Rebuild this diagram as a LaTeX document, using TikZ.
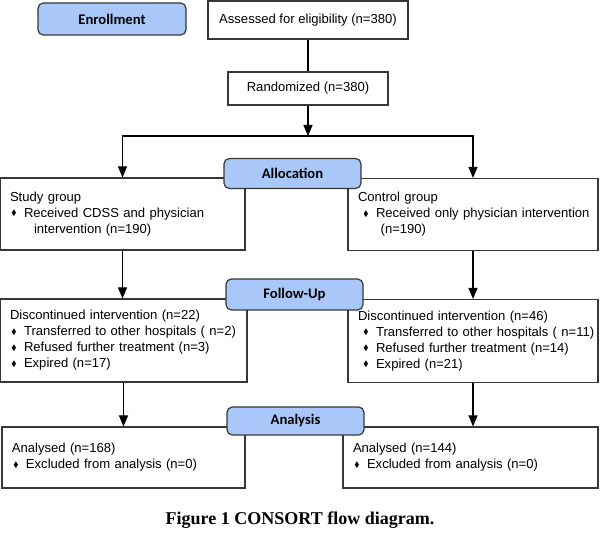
\documentclass[tikz,border=0pt]{standalone}
\usepackage{amsmath, amssymb}
\usepackage{fontspec}
\setmainfont{Liberation Sans}
\newfontfamily\hdrfont{Carlito}
\newfontfamily\capfont{Liberation Serif}
\usepackage{tikz}
\usetikzlibrary{arrows}
\definecolor{hdrblue}{RGB}{169,199,248}
\definecolor{boxline}{RGB}{55,55,55}
\tikzstyle{stage}=[draw=boxline, fill=hdrblue, rounded corners=4pt, line width=0.9pt, minimum width=102.75pt, minimum height=22.5pt, inner sep=0pt, font=\hdrfont\bfseries\fontsize{11}{13}\selectfont]
\tikzstyle{onebox}=[draw=boxline, fill=white, line width=0.9pt, inner sep=0pt, font=\fontsize{9.8}{12}\selectfont]
\tikzstyle{grpbox}=[onebox, align=left, inner xsep=7.5pt, inner ysep=3pt]
\tikzstyle{link}=[line width=0.9pt, black]
\tikzstyle{flow}=[link, -triangle 45]
\newcommand{\dmd}{\makebox[10.5pt][l]{\hspace{1pt}\raisebox{.25ex}{\scalebox{.6}{$\blacklozenge$}}}}

\begin{document}
\begin{tikzpicture}[x=0.75pt, y=-0.75pt]
	\useasboundingbox (0,0) rectangle (600,534);
	\node[onebox, minimum width=150pt, minimum height=28.5pt] (assess) at (308,20) {Assessed for eligibility (n=380)};
	\node[onebox, minimum width=120pt, minimum height=24.75pt] (rand) at (308,88.5) {Randomized (n=380)};
	\coordinate (split) at (308,136);
	\node[grpbox, text width=168.75pt, minimum height=54pt] (study) at (122.5,214) {Study group\\
		\dmd\mbox{Received CDSS and physician}\\
		\hspace*{18pt}intervention (n=190)};
	\node[grpbox, text width=172.5pt, minimum height=54pt] (control) at (473,214.5) {Control group\\
		\hspace*{3pt}\dmd\mbox{Received only physician intervention}\\
		\hspace*{17pt}(n=190)};
	\node[grpbox, text width=170.25pt, minimum height=62.25pt] (fuL) at (123.5,340.5) {Discontinued intervention (n=22)\\
		\dmd\mbox{Transferred to other hospitals ( n=2)}\\
		\dmd\mbox{Refused further treatment (n=3)}\\
		\dmd Expired (n=17)};
	\node[grpbox, text width=172.5pt, minimum height=62.25pt] (fuR) at (473,341) {Discontinued intervention (n=46)\\
		\hspace*{3pt}\dmd\mbox{Transferred to other hospitals ( n=11)}\\
		\hspace*{3pt}\dmd\mbox{Refused further treatment (n=14)}\\
		\hspace*{3pt}\dmd Expired (n=21)};
	\node[grpbox, text width=167.25pt, minimum height=45.75pt] (anaL) at (123.5,457.5) {Analysed (n=168)\\
		\dmd\mbox{Excluded from analysis (n=0)}\\[3pt]};
	\node[grpbox, text width=176.25pt, minimum height=45.75pt] (anaR) at (470.5,457.5) {Analysed (n=144)\\
		\dmd\mbox{Excluded from analysis (n=0)}\\[3pt]};
	\draw[link] (assess) -- (rand);
	\draw[flow] (rand) -- (split);
	\draw[flow] (split) -| (study);
	\draw[flow] (split) -| (control.north);
	\draw[flow] (study.south) -- (study.south |- fuL.north);
	\draw[flow] (control.south) -- (control.south |- fuR.north);
	\draw[flow] (fuL.south) -- (fuL.south |- anaL.north);
	\draw[flow] (fuR.south) -- (fuR.south |- anaR.north);
	\node[stage, minimum width=111pt, minimum height=24pt] (enrol) at (112,19) {Enrollment};
	\node[stage] (alloc) at (292.5,173.5) {Allocation};
	\node[stage, minimum height=23.25pt] (follow) at (294.5,294.5) {Follow-Up};
	\node[stage, minimum height=21pt] (analysis) at (295.5,421) {Analysis};
	\node[font=\capfont\bfseries\fontsize{13.5}{15}\selectfont] (caption) at (300,520) {Figure 1 CONSORT flow diagram.};
\end{tikzpicture}
\end{document}
